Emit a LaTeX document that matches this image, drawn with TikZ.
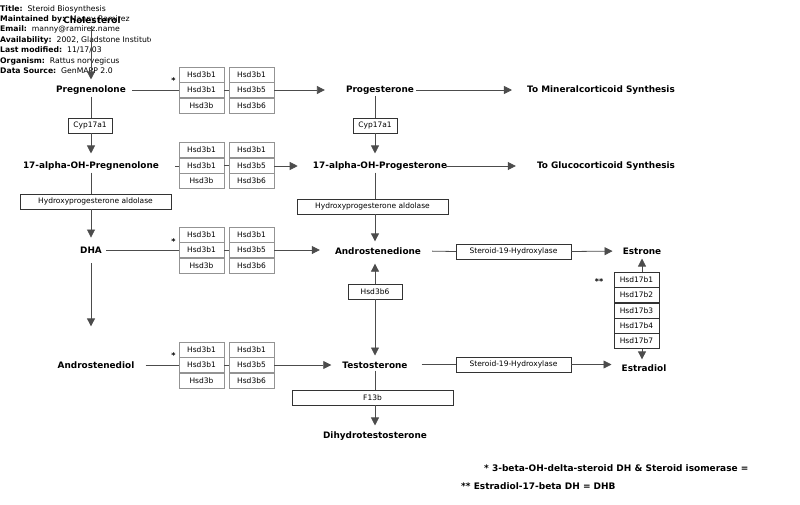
\documentclass[tikz,border=0pt]{standalone}
\usepackage{fontspec}
\setmainfont{DejaVu Sans}
\usetikzlibrary{positioning, arrows.meta}

\begin{document}
\begin{tikzpicture}[
    x=1pt, y=-1pt,
    % Define text styles
    metab/.style={font=\fontsize{8.9}{10}\selectfont\bfseries, inner sep=2pt},
    gene/.style={draw=black!80, font=\fontsize{7.5}{8}\selectfont, inner sep=0pt, minimum height=15pt},
    cell/.style={gene, draw=gray!85, minimum width=45pt},
    starmark/.style={font=\fontsize{8}{9}\selectfont\bfseries, inner sep=0pt},
    note/.style={font=\fontsize{9}{10}\selectfont\bfseries, inner sep=0pt, anchor=west},
    % Line style
    link/.style={draw=black!70, line width=0.8pt},
    >={Triangle[length=8pt, width=8pt]}
]
    \useasboundingbox (0,0) rectangle (800,504);

    % --- HEADER ---
    \begin{scope}
        \clip (0,0) rectangle (150,80);
        \node[anchor=north west, inner sep=0pt, align=left,
              font=\fontsize{7.7}{10.4}\selectfont] (info) at (0,5) {%
            \textbf{Title:}~~Steroid Biosynthesis\\
            \textbf{Maintained by:}~~Manny Ramirez\\
            \textbf{Email:}~~manny@ramirez.name\\
            \textbf{Availability:}~~2002, Gladstone Institute\\
            \textbf{Last modified:}~~11/17/03\\
            \textbf{Organism:}~~Rattus norvegicus\\
            \textbf{Data Source:}~~GenMAPP 2.0};
    \end{scope}

    % --- METABOLITES ---
    \node[metab] (chol)      at (92,20)   {Cholesterol};
    \node[metab] (preg)      at (91,90)   {Pregnenolone};
    \node[metab] (prog)      at (380,90)  {Progesterone};
    \node[metab] (mineral)   at (601,90)  {To Mineralcorticoid Synthesis};
    \node[metab] (ohpreg)    at (91,166)  {17-alpha-OH-Pregnenolone};
    \node[metab] (ohprog)    at (380,166) {17-alpha-OH-Progesterone};
    \node[metab] (gluco)     at (606,166) {To Glucocorticoid Synthesis};
    \node[metab] (dha)       at (91,250)  {DHA};
    \node[metab] (andione)   at (378,251) {Androstenedione};
    \node[metab] (estrone)   at (642,251) {Estrone};
    \node[metab] (andiol)    at (96,365)  {Androstenediol};
    \node[metab] (testo)     at (375,365) {Testosterone};
    \node[metab] (estradiol) at (644,368) {Estradiol};
    \node[metab] (dht)       at (375,436) {Dihydrotestosterone};

    % --- ENZYMES ---
    \node[gene, minimum width=44pt]  (cypa)   at (90,125.5)   {Cyp17a1};
    \node[gene, minimum width=44pt]  (cypb)   at (375,125.5)  {Cyp17a1};
    \node[gene, minimum width=151pt] (aldoa)  at (95.5,201.5) {Hydroxyprogesterone aldolase};
    \node[gene, minimum width=151pt] (aldob)  at (372.5,206.5){Hydroxyprogesterone aldolase};
    \node[gene, minimum width=115pt] (s19a)   at (513.5,251.5){Steroid-19-Hydroxylase};
    \node[gene, minimum width=115pt] (s19b)   at (513.5,364.5){Steroid-19-Hydroxylase};
    \node[gene, minimum width=54pt]  (hsdsix) at (375,291.5)  {Hsd3b6};
    \node[gene, minimum width=161pt] (f13b)   at (372.5,397.5){F13b};

    % Hsd17 stack
    \node[gene, minimum width=45pt] (hsda) at (636.5,279.5) {Hsd17b1};
    \node[gene, minimum width=45pt, below=0pt of hsda] (hsdb) {Hsd17b2};
    \node[gene, minimum width=45pt, below=0pt of hsdb] (hsdc) {Hsd17b3};
    \node[gene, minimum width=45pt, below=0pt of hsdc] (hsdd) {Hsd17b4};
    \node[gene, minimum width=45pt, below=0pt of hsdd] (hsde) {Hsd17b7};
    \node[starmark] (dstar) at (599,282) {**};

    % Hsd3b grids
    \foreach \g/\gy in {ga/90, gb/165.5, gc/250, gd/365} {
        \node[cell] (\g2) at (201.5,\gy) {Hsd3b1};
        \node[cell, above=0pt of \g2] (\g1) {Hsd3b1};
        \node[cell, below=0pt of \g2] (\g3) {Hsd3b};
        \node[cell] (\g5) at (251.5,\gy) {Hsd3b5};
        \node[cell, above=0pt of \g5] (\g4) {Hsd3b1};
        \node[cell, below=0pt of \g5] (\g6) {Hsd3b6};
        \draw[link] (\g2.east) -- (\g5.west);
    }
    \node[starmark] (stara) at (173.5,81)  {*};
    \node[starmark] (starc) at (173.5,242) {*};
    \node[starmark] (stard) at (173.5,356) {*};

    % --- EDGES ---
    % Left column
    \draw[link, ->, shorten >=4pt] (chol.south -| preg) -- (preg.north);
    \draw[link] (preg.south) -- (preg.south |- cypa.north);
    \draw[link, ->, shorten >=6pt] (preg.south |- cypa.south) -- (ohpreg.north);
    \draw[link] (ohpreg.south) -- (ohpreg.south |- aldoa.north);
    \draw[link, ->, shorten >=7pt] (ohpreg.south |- aldoa.south) -- (dha.north);
    \draw[link, ->, shorten <=8pt, shorten >=33pt] (dha.south) -- (dha.south |- andiol.north);

    % Through the Hsd3b grids
    \draw[link, shorten <=4pt] (preg.east) -- (ga2.west);
    \draw[link, ->, shorten >=19pt] (ga5.east) -- (prog.west);
    \draw[link, shorten <=14pt] (ohpreg.east) -- (ohpreg.east -| gb2.west);
    \draw[link, ->, shorten >=13pt] (gb5.east |- ohprog) -- (ohprog.west);
    \draw[link, shorten <=2pt] (dha.east) -- (gc2.west);
    \draw[link, ->, shorten >=13pt] (gc5.east) -- (andione.west |- gc5);
    \draw[link, shorten <=9pt] (andiol.east) -- (gd2.west);
    \draw[link, ->, shorten >=9pt] (gd5.east) -- (testo.west);

    % Middle column
    \draw[link, ->, shorten >=13pt] (prog.east) -- (mineral.west);
    \draw[link] (prog.south -| cypb) -- (cypb.north);
    \draw[link, ->, shorten >=6pt] (cypb.south) -- (ohprog.north -| cypb);
    \draw[link, ->, shorten <=-3pt, shorten >=19pt] (ohprog.east) -- (gluco.west);
    \draw[link] (ohprog.south -| cypb) -- (cypb |- aldob.north);
    \draw[link, ->, shorten >=4pt] (cypb |- aldob.south) -- (andione.north -| cypb);
    \draw[link, ->, shorten >=7pt] (hsdsix.north) -- (andione.south -| hsdsix);
    \draw[link, ->, shorten >=4pt] (hsdsix.south) -- (testo.north);
    \draw[link] (testo.south) -- (testo |- f13b.north);
    \draw[link, ->, shorten >=4pt] (testo |- f13b.south) -- (dht.north);

    % Right side
    \draw[link, shorten <=9pt] (andione.east) -- (s19a.west);
    \draw[link, ->, shorten >=8pt] (s19a.east) -- (estrone.west);
    \draw[link, shorten <=12pt] (testo.east |- s19b) -- (s19b.west);
    \draw[link, ->, shorten >=8pt] (s19b.east) -- (estradiol.west |- s19b);
    \draw[link, ->, shorten >=2pt] (hsda.north -| estrone.south) -- (estrone.south);
    \draw[link, ->, shorten >=3pt] (hsde.south -| estrone.south) -- (estradiol.north -| estrone.south);

    % --- NOTES ---
    \node[note] (noteone) at (484,468) {* 3-beta-OH-delta-steroid DH \& Steroid isomerase =};
    \node[note] (notetwo) at (461,486) {** Estradiol-17-beta DH = DHB};

\end{tikzpicture}
\end{document}
